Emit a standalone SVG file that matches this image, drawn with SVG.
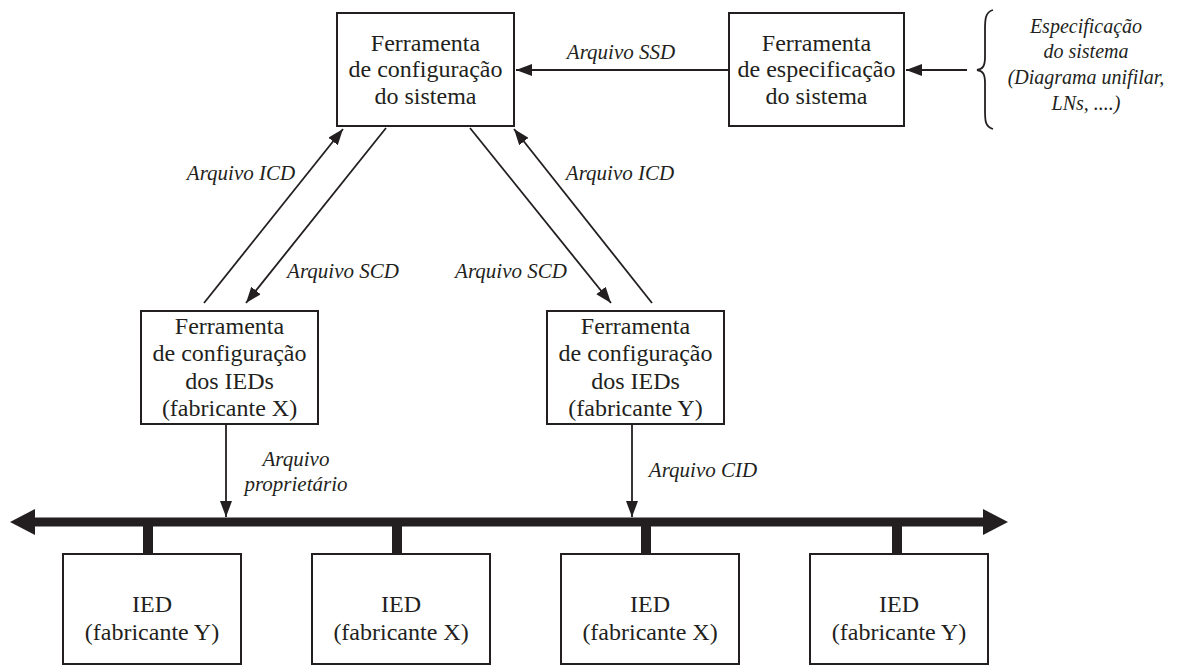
<svg xmlns="http://www.w3.org/2000/svg" width="1181" height="666" viewBox="0 0 1181 666">
  <style>
    .box { fill: #ffffff; stroke: #231f20; stroke-width: 2; }
    .t { font-family: "Liberation Serif", "Times New Roman", serif; font-size: 24px; fill: #231f20; text-anchor: middle; }
    .lbl { font-family: "Liberation Serif", "Times New Roman", serif; font-size: 21px; font-style: italic; fill: #231f20; text-anchor: middle; }
    .spec { font-family: "Liberation Serif", "Times New Roman", serif; font-size: 20px; font-style: italic; fill: #231f20; text-anchor: middle; }
    .ln { stroke: #231f20; stroke-width: 1.8; fill: none; }
    .bus { stroke: #231f20; stroke-width: 9; fill: none; }
    .stub { stroke: #231f20; stroke-width: 10; fill: none; }
    .head { fill: #231f20; }
  </style>
  <defs>
    <marker id="arr" viewBox="0 0 16 12" refX="16" refY="6" markerWidth="16" markerHeight="12" markerUnits="userSpaceOnUse" orient="auto">
      <path d="M0,0 L16,6 L0,12 Z" fill="#231f20"/>
    </marker>
  </defs>

  <rect width="1181" height="666" fill="#ffffff"/>

  <!-- connectors -->
  <g id="connectors">
    <line class="ln" x1="729" y1="70" x2="516" y2="70" marker-end="url(#arr)"/>
    <line class="ln" x1="967" y1="70" x2="906" y2="70" marker-end="url(#arr)"/>
    <line class="ln" x1="204" y1="303" x2="343" y2="129" marker-end="url(#arr)"/>
    <line class="ln" x1="386" y1="128" x2="246" y2="303" marker-end="url(#arr)"/>
    <line class="ln" x1="470" y1="128" x2="611" y2="303" marker-end="url(#arr)"/>
    <line class="ln" x1="652" y1="303" x2="514" y2="129" marker-end="url(#arr)"/>
    <line class="ln" x1="226" y1="424" x2="226" y2="517" marker-end="url(#arr)"/>
    <line class="ln" x1="632" y1="424" x2="632" y2="517" marker-end="url(#arr)"/>
    <!-- network bus -->
    <line class="bus" x1="34" y1="522" x2="984" y2="522"/>
    <path class="head" d="M35,509 L10,522 L35,535 Z"/>
    <path class="head" d="M983,509 L1008,522 L983,535 Z"/>
    <line class="stub" x1="148" y1="522" x2="148" y2="555"/>
    <line class="stub" x1="397" y1="522" x2="397" y2="555"/>
    <line class="stub" x1="646" y1="522" x2="646" y2="555"/>
    <line class="stub" x1="897" y1="522" x2="897" y2="555"/>
    <!-- labels -->
    <text class="lbl" x="621" y="59">Arquivo SSD</text>
    <text class="lbl" x="241" y="180">Arquivo ICD</text>
    <text class="lbl" x="620" y="180">Arquivo ICD</text>
    <text class="lbl" x="343" y="278">Arquivo SCD</text>
    <text class="lbl" x="511" y="278">Arquivo SCD</text>
    <text class="lbl" x="296" y="466">Arquivo</text>
    <text class="lbl" x="296" y="491">proprietário</text>
    <text class="lbl" x="703" y="477">Arquivo CID</text>
  </g>

  <g id="sys-config">
    <rect class="box" x="337" y="13" width="177" height="113"/>
    <text class="t" x="425.5" y="51">Ferramenta</text>
    <text class="t" x="425.5" y="77">de configuração</text>
    <text class="t" x="425.5" y="104">do sistema</text>
  </g>

  <g id="sys-spec">
    <rect class="box" x="729" y="13" width="175" height="113"/>
    <text class="t" x="816.5" y="51">Ferramenta</text>
    <text class="t" x="816.5" y="77">de especificação</text>
    <text class="t" x="816.5" y="104">do sistema</text>
  </g>

  <g id="spec-input">
    <path class="ln" d="M993,10 C985,12 985,20 985,30 L985,57 C985,66 983,69 977,70 C983,71 985,74 985,83 L985,110 C985,120 985,127 993,129"/>
    <text class="spec" x="1086" y="33">Especificação</text>
    <text class="spec" x="1086" y="58">do sistema</text>
    <text class="spec" x="1086" y="84">(Diagrama unifilar,</text>
    <text class="spec" x="1086" y="110">LNs, ....)</text>
  </g>

  <g id="ied-tool-x">
    <rect class="box" x="141" y="311" width="177" height="113"/>
    <text class="t" x="229.5" y="334">Ferramenta</text>
    <text class="t" x="229.5" y="361">de configuração</text>
    <text class="t" x="229.5" y="389">dos IEDs</text>
    <text class="t" x="229.5" y="416">(fabricante X)</text>
  </g>

  <g id="ied-tool-y">
    <rect class="box" x="547" y="311" width="177" height="113"/>
    <text class="t" x="635.5" y="334">Ferramenta</text>
    <text class="t" x="635.5" y="361">de configuração</text>
    <text class="t" x="635.5" y="389">dos IEDs</text>
    <text class="t" x="635.5" y="416">(fabricante Y)</text>
  </g>

  <g id="ied-1">
    <rect class="box" x="63" y="554" width="178" height="110"/>
    <text class="t" x="152" y="612">IED</text>
    <text class="t" x="152" y="640">(fabricante Y)</text>
  </g>
  <g id="ied-2">
    <rect class="box" x="312" y="554" width="178" height="110"/>
    <text class="t" x="401" y="612">IED</text>
    <text class="t" x="401" y="640">(fabricante X)</text>
  </g>
  <g id="ied-3">
    <rect class="box" x="561" y="554" width="178" height="110"/>
    <text class="t" x="650" y="612">IED</text>
    <text class="t" x="650" y="640">(fabricante X)</text>
  </g>
  <g id="ied-4">
    <rect class="box" x="810" y="554" width="178" height="110"/>
    <text class="t" x="899" y="612">IED</text>
    <text class="t" x="899" y="640">(fabricante Y)</text>
  </g>
</svg>
